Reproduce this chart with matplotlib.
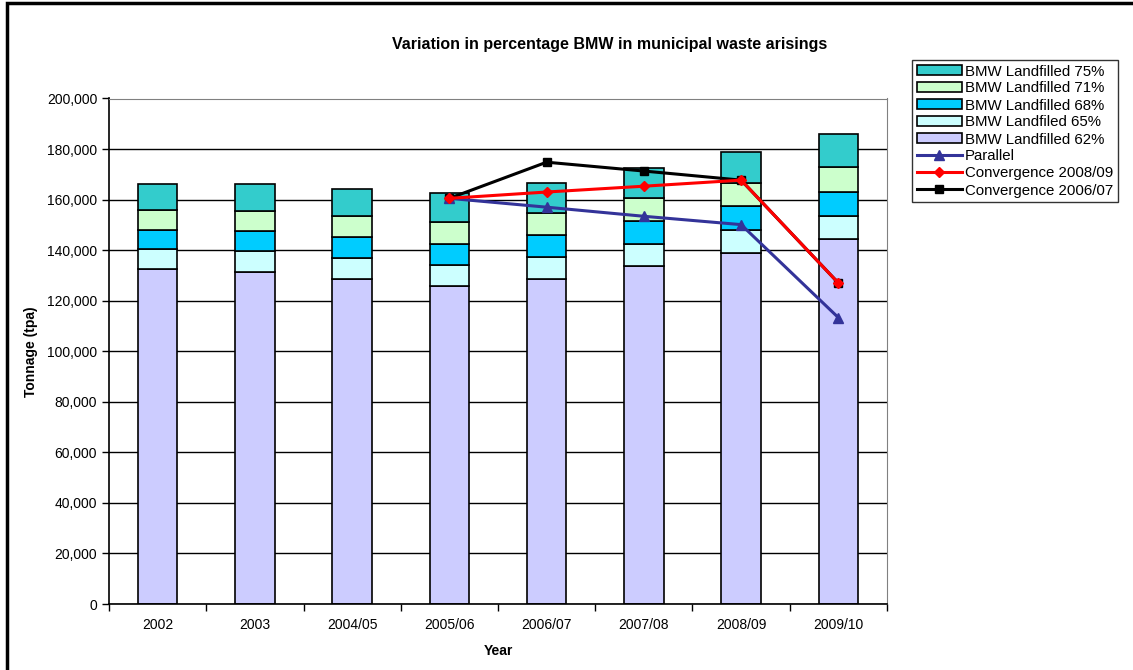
import matplotlib
matplotlib.use("Agg")
import matplotlib.pyplot as plt
import numpy as np
from matplotlib.patches import Rectangle
from matplotlib.ticker import FuncFormatter

plt.rcParams['font.family'] = ['Liberation Sans', 'DejaVu Sans']

years = ['2002', '2003', '2004/05', '2005/06', '2006/07', '2007/08', '2008/09', '2009/10']

# cumulative tops of each band (tpa)
top_62 = [132400, 131500, 128600, 125700, 128500, 133600, 138700, 144300]
top_65 = [140300, 139500, 136900, 134000, 137300, 142600, 148100, 153600]
top_68 = [147900, 147600, 145100, 142600, 146000, 151700, 157300, 163200]
top_71 = [155700, 155500, 153400, 151200, 154800, 160600, 166500, 173000]
top_75 = [166000, 166000, 164300, 162500, 166500, 172600, 178900, 185800]

nan = np.nan
parallel = [nan, nan, nan, 160500, 157000, 153400, 150100, 113300]
conv_0809 = [nan, nan, nan, 160500, 163000, 165300, 167700, 127000]
conv_0607 = [nan, nan, nan, 160500, 174800, 171300, 167700, 127000]

fig = plt.figure(figsize=(11.33, 6.70), dpi=100)
ax = fig.add_axes([109/1133, 1-604/670, (887-109)/1133, (604-98.5)/670])

x = np.arange(len(years))
w = 0.405
bands = [
    (top_62, None, '#CCCCFF', 'BMW Landfilled 62%'),
    (top_65, top_62, '#CCFFFF', 'BMW Landfiled 65%'),
    (top_68, top_65, '#00CCFF', 'BMW Landfilled 68%'),
    (top_71, top_68, '#CCFFCC', 'BMW Landfilled 71%'),
    (top_75, top_71, '#33CCCC', 'BMW Landfilled 75%'),
]
bar_handles = []
for top, bottom, col, lab in bands:
    t = np.array(top)
    b = np.zeros(len(t)) if bottom is None else np.array(bottom)
    h = ax.bar(x, t - b, bottom=b, width=w, color=col, edgecolor='black',
               linewidth=1.2, label=lab, zorder=2)
    bar_handles.append(h)

l1, = ax.plot(x, conv_0607, color='black', marker='s', markersize=6, lw=2.2,
              label='Convergence 2006/07', zorder=3)
l2, = ax.plot(x, parallel, color='#333399', marker='^', markersize=7, lw=2.2,
              label='Parallel', zorder=4)
l3, = ax.plot(x, conv_0809, color='red', marker='D', markersize=5.5, lw=2.2,
              label='Convergence 2008/09', zorder=5)

ax.set_xlim(-0.5, len(years) - 0.5)
ax.set_ylim(0, 200000)
ax.set_yticks(np.arange(0, 200001, 20000))
ax.yaxis.set_major_formatter(FuncFormatter(lambda v, p: f'{int(v):,}'))
ax.set_xticks(x)
ax.set_xticklabels(years)
ax.set_xticks(np.arange(-0.5, len(years), 1), minor=True)
ax.tick_params(axis='x', which='major', length=0, labelsize=10, pad=10)
ax.tick_params(axis='x', which='minor', length=5, width=1)
ax.tick_params(axis='y', length=5, width=1, labelsize=10)
ax.grid(axis='y', color='black', lw=1, zorder=0)
ax.set_axisbelow(True)
for s in ['top', 'right']:
    ax.spines[s].set_color('#808080')
ax.spines['left'].set_linewidth(1.2)
ax.spines['bottom'].set_linewidth(1.2)

ax.set_xlabel('Year', fontsize=10, fontweight='bold', labelpad=9)
ax.set_ylabel('Tonnage (tpa)', fontsize=10, fontweight='bold')
ax.yaxis.set_label_coords(-71/778, 0.5)
fig.text(610/1133, 1-44/670, 'Variation in percentage BMW in municipal waste arisings',
         ha='center', va='center', fontsize=11.5, fontweight='bold')

handles = bar_handles[::-1] + [l2, l3, l1]
labels = [h.get_label() for h in handles]
leg = fig.legend(handles, labels, loc='upper left', bbox_to_anchor=(912/1133, 1-60/670),
                 fontsize=10.8, frameon=True, fancybox=False, edgecolor='black',
                 borderpad=0.3, labelspacing=0.2, handlelength=3.0, handleheight=0.6,
                 handletextpad=0.25, borderaxespad=0)
leg.get_frame().set_linewidth(1)

# outer chart frame (left and top edges visible)
fig.patches.append(Rectangle((7/1133, -0.1), 1.2, 1-2.5/670 + 0.1, transform=fig.transFigure,
                             fill=False, edgecolor='black', lw=2.5))

fig.savefig('out.png', dpi=100)
